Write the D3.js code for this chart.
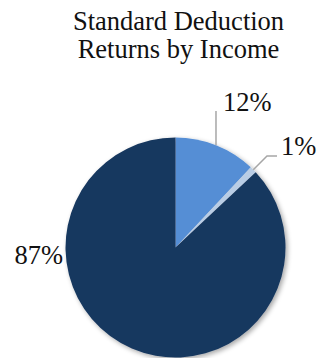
<!DOCTYPE html>
<html>
<head>
<meta charset="utf-8">
<script src="https://cdn.jsdelivr.net/npm/d3@7"></script>
<style>
  html, body { margin: 0; padding: 0; background: #ffffff; }
  svg { display: block; }
</style>
</head>
<body>
<svg id="chart" width="323" height="358"></svg>
<script>
// Share of standard-deduction returns by income group
const categories = ["Group A", "Group B", "Group C"];
const values = [12, 1, 87];
const labels = ["12%", "1%", "87%"];
const colors = ["#558ED5", "#B9CDE5", "#17375E"];
const titleLines = ["Standard Deduction", "Returns by Income"];

const W = 323, H = 358;
const cx = 175.5, cy = 247.5, R = 110;
const font = "'Liberation Serif', 'Times New Roman', serif";
const fs = 26.5;

const svg = d3.select("#chart");

// soft drop shadow under the pie
const defs = svg.append("defs");
const f = defs.append("filter").attr("id", "shadow")
  .attr("x", "-20%").attr("y", "-20%").attr("width", "140%").attr("height", "140%");
f.append("feGaussianBlur").attr("in", "SourceAlpha").attr("stdDeviation", 2.5).attr("result", "b");
f.append("feOffset").attr("in", "b").attr("dx", 2).attr("dy", 2).attr("result", "o");
f.append("feComponentTransfer").attr("in", "o").attr("result", "s")
  .append("feFuncA").attr("type", "linear").attr("slope", 0.35);
const m = f.append("feMerge");
m.append("feMergeNode").attr("in", "s");
m.append("feMergeNode").attr("in", "SourceGraphic");

// title
svg.append("g").selectAll("text").data(titleLines).join("text")
  .attr("x", 178.5)
  .attr("y", (d, i) => 29.5 + i * 28)
  .attr("text-anchor", "middle")
  .attr("font-family", font)
  .attr("font-size", fs)
  .attr("fill", "#111111")
  .text(d => d);

const pie = d3.pie().sort(null).value(d => d)(values);
const arc = d3.arc().innerRadius(0).outerRadius(R);

const g = svg.append("g").attr("transform", `translate(${cx},${cy})`);
g.append("g").attr("filter", "url(#shadow)")
  .selectAll("path").data(pie).join("path")
  .attr("d", arc)
  .attr("fill", (d, i) => colors[i]);

// leader lines + labels
const mid = d => (d.startAngle + d.endAngle) / 2;
const edge = (d, r) => [Math.sin(mid(d)) * r, -Math.cos(mid(d)) * r];

const lineColor = "#a6a6a6";
const labelG = g.append("g");

// 12% : straight up from slice edge
{
  const d = pie[0];
  const [x0, y0] = edge(d, R);
  labelG.append("path")
    .attr("d", d3.line()([[x0, y0], [x0, 111 - cy]]))
    .attr("stroke", lineColor).attr("stroke-width", 1.5).attr("fill", "none");
  labelG.append("text")
    .attr("x", x0 + 7).attr("y", 111 - cy)
    .attr("font-family", font).attr("font-size", fs).attr("fill", "#111111")
    .text(labels[0]);
}
// 1% : elbow line up-right
{
  const d = pie[1];
  const [x0, y0] = edge(d, R);
  const yH = 156 - cy;
  labelG.append("path")
    .attr("d", d3.line()([[x0, y0], [x0 + (y0 - yH), yH], [277 - cx, yH]]))
    .attr("stroke", lineColor).attr("stroke-width", 1.5).attr("fill", "none");
  labelG.append("text")
    .attr("x", 281 - cx).attr("y", 155 - cy)
    .attr("font-family", font).attr("font-size", fs).attr("fill", "#111111")
    .text(labels[1]);
}
// 87% : to the left of the pie
{
  labelG.append("text")
    .attr("x", 63 - cx).attr("y", 263.5 - cy)
    .attr("text-anchor", "end")
    .attr("font-family", font).attr("font-size", fs).attr("fill", "#111111")
    .text(labels[2]);
}
</script>
</body>
</html>
